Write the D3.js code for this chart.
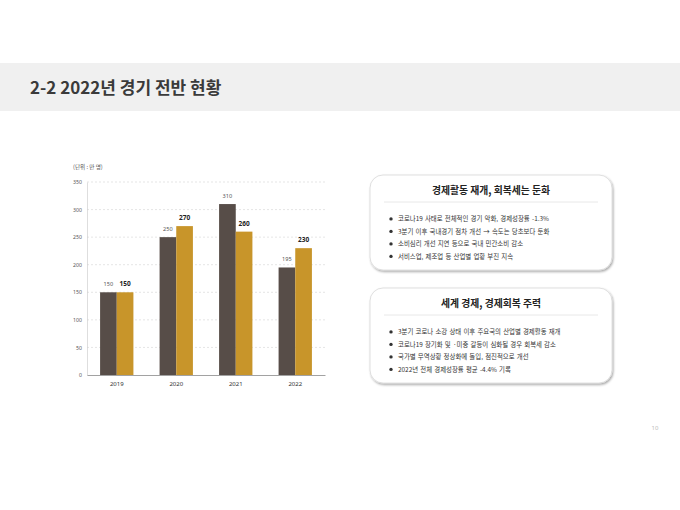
<!DOCTYPE html>
<html>
<head>
<meta charset="utf-8">
<title>2-2 2022년 경기 전반 현황</title>
<script src="https://d3js.org/d3.v7.min.js"></script>
<style>
body { margin: 0; background: #fff; }
svg { display: block; font-family: "Noto Sans CJK KR", "Noto Sans", sans-serif; }
</style>
</head>
<body>
<svg id="page" width="680" height="510"></svg>

<script>
// chart data
var years = ["2019", "2020", "2021", "2022"];
var darkValues = [150, 250, 310, 195];
var goldValues = [150, 270, 260, 230];
var yTicks = [0, 50, 100, 150, 200, 250, 300, 350];
var series = ["dark", "gold"];

// text boxes on the right
var box1Title = "경제활동 재개, 회복세는 둔화";
var box1Items = [
  "코로나19 사태로 전체적인 경기 악화, 경제성장률 -1.3%",
  "3분기 이후 국내경기 점차 개선 → 속도는 당초보다 둔화",
  "소비심리 개선 지연 등으로 국내 민간소비 감소",
  "서비스업, 제조업 등 산업별 업황 부진 지속"
];
var box2Title = "세계 경제, 경제회복 주력";
var box2Items = [
  "3분기 코로나 소강 상태 이후 주요국의 산업별 경제활동 재개",
  "코로나19 장기화 및 ·미중 갈등이 심화될 경우 회복세 감소",
  "국가별 무역상황 정상화에 돌입, 점진적으로 개선",
  "2022년 전체 경제성장률 평균 -4.4% 기록"
];

var svg = d3.select("#page");

// header band
svg.append("rect")
  .attr("x", 0).attr("y", 63).attr("width", 680).attr("height", 48)
  .attr("fill", "#f0f0f0");
svg.append("text")
  .attr("x", 30).attr("y", 94)
  .attr("font-size", 17).attr("font-weight", "bold")
  .attr("fill", "#3a3a3a")
  .text("2-2 2022년 경기 전반 현황");

// ---- bar chart ----
var x0 = d3.scaleBand().domain(years).range([87, 325])
  .paddingInner(0.44).paddingOuter(0.22);
var x1 = d3.scaleBand().domain(series).range([0, x0.bandwidth()]);
var y = d3.scaleLinear().domain([0, 350]).range([375, 182]);

var chart = svg.append("g");

// dashed grid
chart.selectAll("line.grid")
  .data(yTicks.filter(function (d) { return d > 0; }))
  .enter().append("line")
  .attr("class", "grid")
  .attr("x1", 87).attr("x2", 325)
  .attr("y1", function (d) { return y(d); })
  .attr("y2", function (d) { return y(d); })
  .attr("stroke", "#d4d4d4").attr("stroke-width", 0.6)
  .attr("stroke-dasharray", "2,2");

// y axis
var yAxis = chart.append("g")
  .attr("transform", "translate(87,0)")
  .call(d3.axisLeft(y).tickValues(yTicks).tickSize(0).tickPadding(5));
yAxis.select(".domain").attr("stroke", "#d0d0d0").attr("stroke-width", 0.7);
yAxis.selectAll("text").attr("font-size", 5.2).attr("fill", "#555")
  .attr("font-family", "'Noto Sans', sans-serif");

// x axis
var xAxis = chart.append("g")
  .attr("transform", "translate(0,375)")
  .call(d3.axisBottom(x0).tickSize(0).tickPadding(7));
xAxis.select(".domain").attr("stroke", "#8a8a8a").attr("stroke-width", 0.8);
xAxis.selectAll("text").attr("font-size", 6).attr("fill", "#333")
  .attr("font-family", "'Noto Sans', sans-serif");

// unit label
chart.append("text")
  .attr("x", 73).attr("y", 169)
  .attr("font-size", 5.6).attr("fill", "#555")
  .text("(단위 : 만 명)");

var rows = years.map(function (yr, i) {
  return { year: yr, dark: darkValues[i], gold: goldValues[i] };
});
var colors = { dark: "#574d48", gold: "#c8952a" };

var groups = chart.selectAll("g.year")
  .data(rows).enter().append("g")
  .attr("class", "year")
  .attr("transform", function (d) { return "translate(" + x0(d.year) + ",0)"; });

groups.selectAll("rect")
  .data(function (d) { return series.map(function (s) { return { key: s, value: d[s] }; }); })
  .enter().append("rect")
  .attr("x", function (d) { return x1(d.key); })
  .attr("y", function (d) { return y(d.value); })
  .attr("width", x1.bandwidth())
  .attr("height", function (d) { return 375 - y(d.value); })
  .attr("fill", function (d) { return colors[d.key]; });

// value labels: plain grey for dark bars, bold for gold
groups.selectAll("text.val")
  .data(function (d) { return series.map(function (s) { return { key: s, value: d[s] }; }); })
  .enter().append("text")
  .attr("class", "val")
  .attr("x", function (d) { return x1(d.key) + x1.bandwidth() / 2; })
  .attr("y", function (d) { return y(d.value) - 6; })
  .attr("text-anchor", "middle")
  .attr("font-family", "'Noto Sans', sans-serif")
  .attr("font-size", function (d) { return d.key == "gold" ? 6.5 : 5.6; })
  .attr("font-weight", function (d) { return d.key == "gold" ? "bold" : "normal"; })
  .attr("fill", function (d) { return d.key == "gold" ? "#222" : "#555"; })
  .text(function (d) { return d.value; });

// ---- right hand boxes ----
var defs = svg.append("defs");
var f = defs.append("filter").attr("id", "shadow")
  .attr("x", "-10%").attr("y", "-10%").attr("width", "120%").attr("height", "130%");
f.append("feDropShadow").attr("dx", 1).attr("dy", 1.5).attr("stdDeviation", 1.2)
  .attr("flood-color", "#000").attr("flood-opacity", 0.35);

function drawBox(top, title, items) {
  var g = svg.append("g").attr("transform", "translate(370," + top + ")");
  g.append("rect")
    .attr("width", 242).attr("height", 95).attr("rx", 13)
    .attr("fill", "#fff").attr("stroke", "#d8d8d8").attr("stroke-width", 0.8)
    .attr("filter", "url(#shadow)");
  g.append("text")
    .attr("x", 121).attr("y", 18.5)
    .attr("text-anchor", "middle")
    .attr("font-size", 9.8).attr("font-weight", "bold").attr("fill", "#222")
    .text(title);
  g.append("line")
    .attr("x1", 14).attr("x2", 228).attr("y1", 27).attr("y2", 27)
    .attr("stroke", "#e2e2e2").attr("stroke-width", 0.8);
  items.forEach(function (t, i) {
    var by = 46 + i * 12.5;
    g.append("circle").attr("cx", 21).attr("cy", by - 2.1).attr("r", 1.7).attr("fill", "#333");
    g.append("text")
      .attr("x", 28).attr("y", by)
      .attr("font-size", 6.4).attr("word-spacing", 0.8).attr("fill", "#333")
      .text(t);
  });
}
drawBox(175, box1Title, box1Items);
drawBox(288, box2Title, box2Items);

// page number
svg.append("text")
  .attr("x", 655).attr("y", 430)
  .attr("text-anchor", "middle")
  .attr("font-size", 6).attr("fill", "#bbb")
  .attr("font-family", "'Noto Sans', sans-serif")
  .text("10");
</script>
</body>
</html>
